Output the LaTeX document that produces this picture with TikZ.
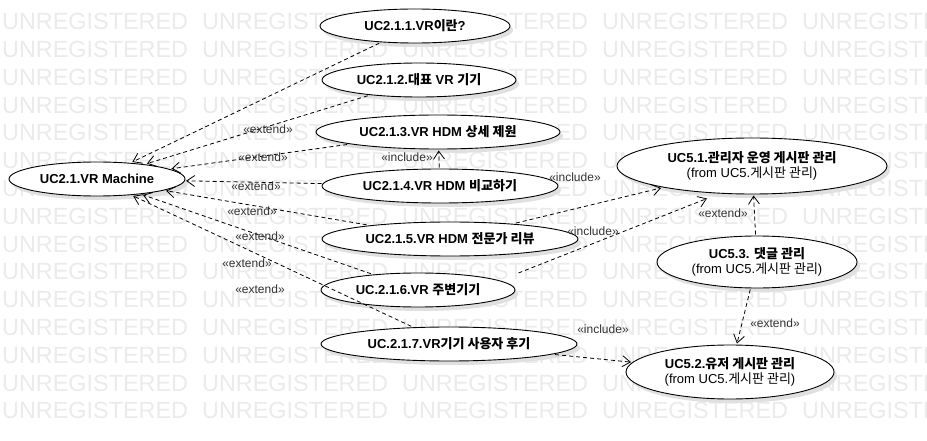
\documentclass[tikz,border=0pt]{standalone}
\usepackage{fontspec}
\setmainfont{Liberation Sans}
\newfontfamily\kr{Noto Sans CJK KR}
\usetikzlibrary{shapes.geometric,arrows.meta,shadows}
\newcommand\ko[1]{{\kr #1}}
\newcommand\usecase[6]{%
  \node[uc, minimum width=#4pt, minimum height=#5pt] (#1) at (#2,#3) {};
  \node[uctext] (#1t) at (#1.center) {#6};
}
\tikzset{
  uc/.style={ellipse, draw=black, line width=0.9pt, fill=white, inner sep=0pt, outer sep=1.5pt,
    drop shadow={shadow xshift=3pt, shadow yshift=-4pt, fill=black!12, opacity=1}},
  uctext/.style={font=\fontsize{13}{15}\selectfont\bfseries, align=center, inner sep=0pt},
  dep/.style={draw=black, dash pattern=on 4pt off 3pt, line width=0.8pt,
    -{Straight Barb[length=8pt,width=11pt]}},
  lab/.style={font=\fontsize{12}{14}\selectfont, text=black!80, inner sep=0pt},
  wm/.style={font=\fontsize{23.4}{24}\selectfont, text=black!8, inner sep=0pt, anchor=west}
}
\begin{document}
\begin{tikzpicture}[x=1pt,y=-1pt]
\useasboundingbox (0,0) rectangle (927,441);
\fill[white] (0,0) rectangle (927,441);
\begin{scope}
\clip (0,0) rectangle (927,441);
\foreach \i in {0,...,14}{
  \foreach \j in {0,...,4}{
    \node[wm] (wm\i-\j) at ({2+200*\j},{21.7+27.8*\i}) {UNREGISTERED};
  }}
\end{scope}

\usecase{u21}{97}{179}{176}{34}{UC2.1.VR Machine}
\usecase{u211}{415}{26}{190}{34}{UC2.1.1.VR\ko{이란}?}
\usecase{u212}{419}{80}{194}{34}{UC2.1.2.\ko{대표} VR \ko{기기}}
\usecase{u213}{438}{132}{244}{34}{UC2.1.3.VR HDM \ko{상세 제원}}
\usecase{u214}{440}{186}{236}{34}{UC2.1.4.VR HDM \ko{비교하기}}
\usecase{u215}{450}{239}{256}{34}{UC2.1.5.VR HDM \ko{전문가 리뷰}}
\usecase{u216}{418}{290}{194}{34}{UC.2.1.6.VR \ko{주변기기}}
\usecase{u217}{449}{344}{256}{34}{UC.2.1.7.VR\ko{기기 사용자 후기}}
\usecase{u51}{752}{166}{270}{56}{UC5.1.\ko{관리자 운영 게시판 관리}\\{\mdseries (from UC5.\ko{게시판 관리})}}
\usecase{u53}{757}{262}{200}{52}{UC5.3. \ko{댓글 관리}\\{\mdseries (from UC5.\ko{게시판 관리})}}
\usecase{u52}{730}{372}{208}{54}{UC5.2.\ko{유저 게시판 관리}\\{\mdseries (from UC5.\ko{게시판 관리})}}

\draw[dep] (u211) -- (u21);
\draw[dep] (u212) -- (u21);
\draw[dep] (u213) -- (u21);
\draw[dep] (u214) -- (u21);
\draw[dep] (u215) -- (u21);
\draw[dep] (u216) -- (u21);
\draw[dep] (u217) -- (u21);
\draw[dep] (u214) -- (u213);
\draw[dep] (u215) -- (u51);
\draw[dep] ([xshift=2pt,yshift=17pt]u216.east) -- ([xshift=-45pt,yshift=-3pt]u51.south);
\draw[dep] (u217) -- (u52);
\draw[dep] (u53) -- (u51);
\draw[dep] (u53) -- (u52);

\node[lab] (l1) at (268,129) {«extend»};
\node[lab] (l2) at (263,157) {«extend»};
\node[lab] (l3) at (256,186) {«extend»};
\node[lab] (l4) at (252,211) {«extend»};
\node[lab] (l5) at (260,236) {«extend»};
\node[lab] (l6) at (247,263) {«extend»};
\node[lab] (l7) at (260,289) {«extend»};
\node[lab] (l8) at (407,157) {«include»};
\node[lab] (l9) at (575,177) {«include»};
\node[lab] (l10) at (593,231) {«include»};
\node[lab] (l11) at (603,329) {«include»};
\node[lab] (l12) at (723,213) {«extend»};
\node[lab] (l13) at (775,323) {«extend»};
\end{tikzpicture}
\end{document}
